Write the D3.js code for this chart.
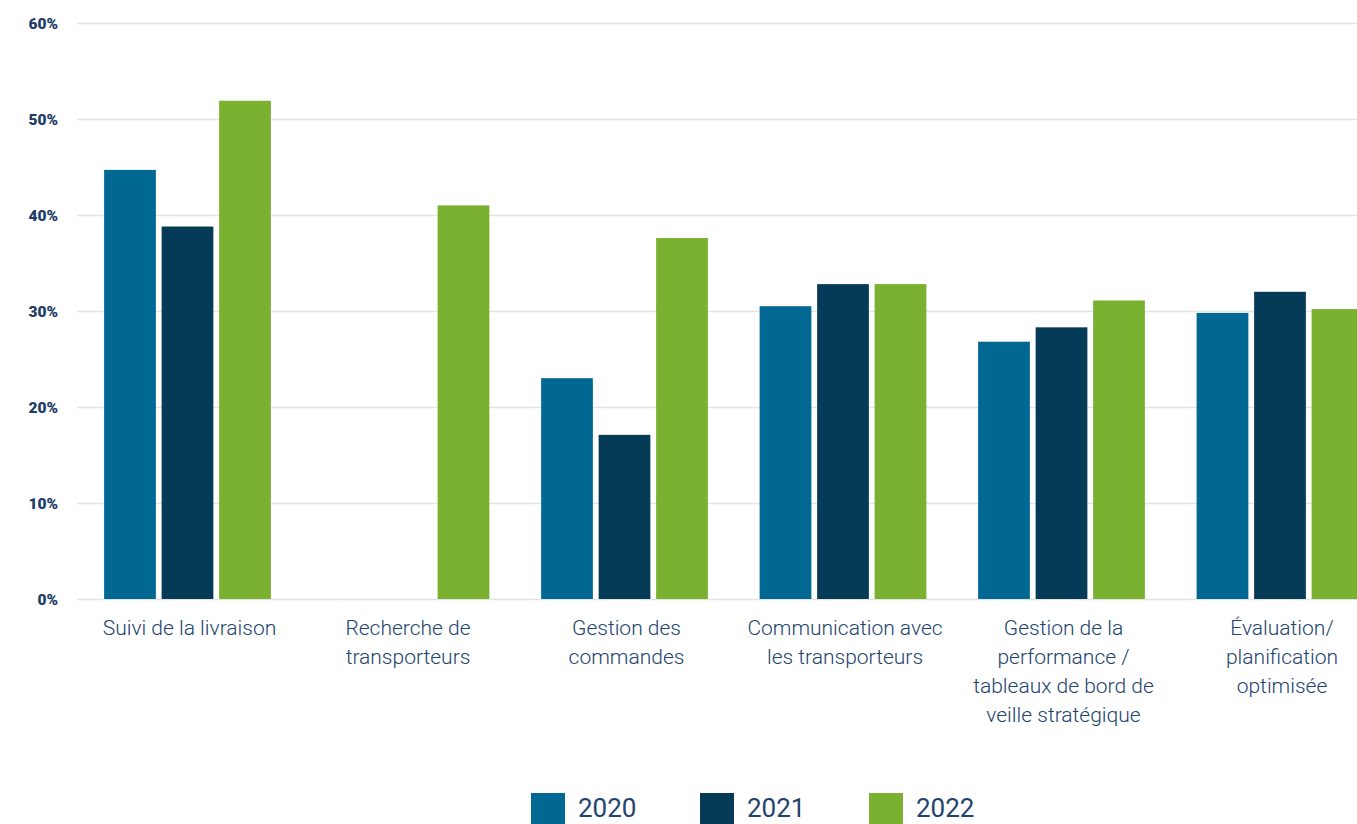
<!DOCTYPE html>
<html><head><meta charset="utf-8">
<script src="https://cdn.jsdelivr.net/npm/d3@7"></script>
<style>
html,body{margin:0;padding:0;background:#fff;overflow:hidden;}
svg{display:block;}
</style></head>
<body>
<svg id="chart" width="1357" height="824"></svg>
<script>
const categories = [
  ["Suivi de la livraison"],
  ["Recherche de", "transporteurs"],
  ["Gestion des", "commandes"],
  ["Communication avec", "les transporteurs"],
  ["Gestion de la", "performance /", "tableaux de bord de", "veille stratégique"],
  ["Évaluation/", "planification", "optimisée"]
];
const years = ["2020", "2021", "2022"];
const values2020 = [44.7, null, 23.0, 30.5, 26.8, 29.8];
const values2021 = [38.8, null, 17.1, 32.8, 28.3, 32.0];
const values2022 = [51.9, 41.0, 37.6, 32.8, 31.1, 30.2];
const yTicks = [0, 10, 20, 30, 40, 50, 60];
const colors = ["#006892", "#053b57", "#7ab131"];

const series = [values2020, values2021, values2022];
const svg = d3.select("#chart");
const textColor = "#21436d";

const y = d3.scaleLinear().domain([0, 60]).range([599, 23]);
const catIdx = d3.range(categories.length);
const step = 218.5;
const pIn = 1 - 166.75 / step;
const x = d3.scaleBand().domain(catIdx).range([78.25, 78.25 + step * categories.length])
  .paddingInner(pIn).paddingOuter(pIn / 2);
const xs = d3.scaleBand().domain(years).range([0, x.bandwidth()]).paddingInner(0.1).paddingOuter(0);

// gridlines
const yAxis = d3.axisLeft(y).tickValues(yTicks).tickFormat(d => d + "%")
  .tickSize(-(1357 - 77)).tickPadding(19);
const gy = svg.append("g").attr("transform", "translate(77,0)").call(yAxis)
  .attr("font-size", null).attr("font-family", null);
gy.select(".domain").remove();
gy.selectAll(".tick line").attr("stroke", "#e3e3e3").attr("stroke-width", 1.5);
gy.selectAll(".tick text").attr("fill", "#1d3d66")
  .attr("font-family", "Roboto, sans-serif").attr("font-weight", "900")
  .attr("font-size", "15.5px").attr("dy", "0.35em");

// bars
const groups = svg.append("g").selectAll("g").data(catIdx).join("g")
  .attr("transform", i => `translate(${x(i)},0)`);
groups.selectAll("rect")
  .data(i => years.map((yr, k) => ({ yr, k, v: series[k][i] })).filter(d => d.v != null))
  .join("rect")
  .attr("x", d => xs(d.yr))
  .attr("width", xs.bandwidth())
  .attr("y", d => y(d.v))
  .attr("height", d => y(0) - y(d.v))
  .attr("fill", d => colors[d.k]);

// category labels
const labels = svg.append("g").selectAll("text").data(catIdx).join("text")
  .attr("x", i => x(i) + x.bandwidth() / 2 + 2)
  .attr("y", 635)
  .attr("text-anchor", "middle")
  .attr("fill", textColor)
  .style("font-family", "'Roboto', sans-serif")
  .style("font-weight", "300")
  .style("font-size", "21px");
labels.selectAll("tspan").data(i => categories[i]).join("tspan")
  .attr("x", function () { return d3.select(this.parentNode).attr("x"); })
  .attr("dy", (d, j) => j === 0 ? 0 : 29)
  .text(d => d);

// legend
const legX = d3.scalePoint().domain(years).range([531, 869]);
const leg = svg.append("g").selectAll("g").data(years).join("g")
  .attr("transform", d => `translate(${legX(d)},793)`);
leg.append("rect").attr("width", 34).attr("height", 34).attr("fill", (d, i) => colors[i]);
leg.append("text").attr("x", 47).attr("y", 24).text(d => d)
  .attr("fill", textColor)
  .style("font-family", "Roboto, sans-serif").style("font-weight", "400")
  .style("font-size", "26px");
</script>
</body></html>
